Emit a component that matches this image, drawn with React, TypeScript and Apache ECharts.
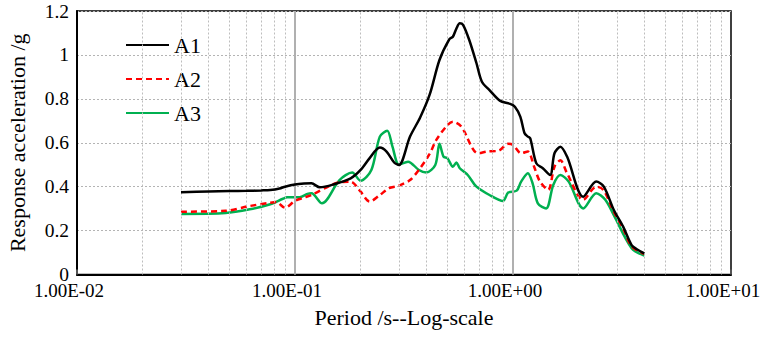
import React, { useEffect, useRef } from "react";
import * as echarts from "echarts";

// Response spectra, period (s) vs. acceleration (g)
const a1Period = [0.03, 0.04, 0.05, 0.06, 0.07, 0.077, 0.085, 0.09, 0.1, 0.11, 0.119, 0.13, 0.15, 0.18, 0.2, 0.22, 0.245, 0.263, 0.285, 0.3, 0.337, 0.375, 0.415, 0.46, 0.51, 0.53, 0.55, 0.57, 0.59, 0.63, 0.68, 0.72, 0.78, 0.87, 0.97, 1.02, 1.08, 1.13, 1.17, 1.2, 1.28, 1.37, 1.48, 1.55, 1.65, 1.77, 2.1, 2.41, 2.61, 2.9, 3.2, 3.5, 3.7, 4.0];
const a1Value = [0.375, 0.378, 0.38, 0.381, 0.383, 0.385, 0.392, 0.4, 0.41, 0.414, 0.415, 0.397, 0.41, 0.438, 0.476, 0.53, 0.578, 0.56, 0.51, 0.499, 0.628, 0.715, 0.82, 0.977, 1.071, 1.083, 1.12, 1.144, 1.137, 1.068, 0.962, 0.878, 0.84, 0.792, 0.777, 0.764, 0.719, 0.643, 0.628, 0.62, 0.506, 0.484, 0.453, 0.552, 0.582, 0.537, 0.354, 0.423, 0.4, 0.294, 0.218, 0.134, 0.115, 0.096];

const a2Period = [0.03, 0.048, 0.062, 0.077, 0.082, 0.09, 0.1, 0.11, 0.119, 0.145, 0.16, 0.18, 0.2, 0.22, 0.245, 0.27, 0.3, 0.337, 0.375, 0.415, 0.445, 0.5, 0.53, 0.58, 0.69, 0.76, 0.86, 0.95, 1.0, 1.09, 1.17, 1.25, 1.33, 1.45, 1.55, 1.65, 1.77, 2.1, 2.41, 2.6, 2.9, 3.2, 3.5, 4.0];
const a2Value = [0.286, 0.29, 0.312, 0.327, 0.33, 0.304, 0.335, 0.35, 0.362, 0.405, 0.42, 0.423, 0.377, 0.332, 0.362, 0.393, 0.405, 0.43, 0.484, 0.55, 0.613, 0.68, 0.696, 0.673, 0.552, 0.56, 0.564, 0.595, 0.59, 0.552, 0.56, 0.491, 0.423, 0.385, 0.491, 0.52, 0.461, 0.34, 0.4, 0.385, 0.286, 0.21, 0.128, 0.094];

const a3Period = [0.03, 0.048, 0.062, 0.077, 0.088, 0.092, 0.105, 0.114, 0.119, 0.133, 0.16, 0.183, 0.2, 0.224, 0.245, 0.265, 0.28, 0.3, 0.33, 0.37, 0.4, 0.44, 0.46, 0.48, 0.5, 0.53, 0.55, 0.57, 0.62, 0.68, 0.78, 0.9, 0.95, 1.04, 1.09, 1.17, 1.23, 1.3, 1.42, 1.53, 1.65, 1.8, 2.1, 2.41, 2.65, 2.9, 3.5, 4.0];
const a3Value = [0.276, 0.28, 0.297, 0.32, 0.345, 0.352, 0.352, 0.367, 0.37, 0.324, 0.43, 0.464, 0.427, 0.476, 0.628, 0.655, 0.582, 0.5, 0.514, 0.476, 0.464, 0.499, 0.595, 0.537, 0.53, 0.491, 0.51, 0.484, 0.453, 0.4, 0.362, 0.335, 0.373, 0.382, 0.423, 0.461, 0.415, 0.324, 0.301, 0.408, 0.453, 0.423, 0.301, 0.37, 0.34, 0.27, 0.12, 0.086];

// Log-axis gridlines: minor (2..9 in each decade) and decade lines
const minorGrid = [0.02, 0.03, 0.04, 0.05, 0.06, 0.07, 0.08, 0.09, 0.2, 0.3, 0.4, 0.5, 0.6, 0.7, 0.8, 0.9, 2, 3, 4, 5, 6, 7, 8, 9];
const decadeGrid = [0.1, 1];

const serif = "Liberation Serif";

const pairs = (xs: number[], ys: number[]) => xs.map((x, i) => [x, ys[i]]);

const fmtExp = (v: number) => {
  const [m, e] = v.toExponential(2).split("e");
  const n = parseInt(e, 10);
  const sign = n < 0 ? "-" : "+";
  const abs = Math.abs(n);
  return `${m}E${sign}${abs < 10 ? "0" + abs : abs}`;
};

export default function App() {
  const ref = useRef<HTMLDivElement>(null);

  useEffect(() => {
    document.body.style.margin = "0";
    if (!ref.current) return;
    const chart = echarts.init(ref.current, null, { renderer: "svg" });
    const lineW = 2.5;
    chart.setOption({
      animation: false,
      backgroundColor: "#fff",
      textStyle: { fontFamily: serif },
      grid: {
        left: 77,
        right: 32,
        top: 11,
        bottom: 63.5,
        outerBoundsMode: "none",
        containLabel: false,
        show: true,
        borderColor: "#000",
        borderWidth: 1.5,
      },
      legend: {
        orient: "vertical",
        left: 120,
        top: 29,
        itemWidth: 43,
        itemHeight: 14,
        itemGap: 12,
        itemStyle: { opacity: 0 },
        textStyle: { fontFamily: serif, fontSize: 22, color: "#000" },
        data: ["A1", "A2", "A3"],
      },
      xAxis: {
        type: "log",
        logBase: 10,
        min: 0.01,
        max: 10,
        name: "Period /s--Log-scale",
        nameLocation: "middle",
        nameGap: 32,
        nameTextStyle: { fontFamily: serif, fontSize: 22, color: "#000" },
        axisLine: { lineStyle: { color: "#000", width: 2 } },
        axisTick: { show: true, inside: true, length: 5, lineStyle: { color: "#555", width: 2 } },
        axisLabel: {
          fontFamily: serif,
          fontSize: 19,
          lineHeight: 17,
          color: "#000",
          margin: 7,
          padding: [0, 16, 0, 0],
          hideOverlap: false,
          formatter: (v: number) => fmtExp(v),
        },
        splitLine: { show: false },
      },
      yAxis: {
        type: "value",
        min: 0,
        max: 1.2,
        interval: 0.2,
        name: "Response acceleration /g",
        nameLocation: "middle",
        nameGap: 49,
        nameTextStyle: { fontFamily: serif, fontSize: 22, color: "#000" },
        axisLine: { show: true, lineStyle: { color: "#000", width: 2 } },
        axisTick: { show: false },
        axisLabel: { fontFamily: serif, fontSize: 19.5, lineHeight: 13, color: "#000", margin: 8 },
        splitLine: { show: true, lineStyle: { color: "#b4b4b4", type: [2, 2], width: 1 } },
      },
      series: [
        {
          name: "grid",
          type: "line",
          data: [],
          silent: true,
          markLine: {
            silent: true,
            symbol: "none",
            label: { show: false },
            animation: false,
            data: [
              ...minorGrid.map((v) => ({
                xAxis: v,
                lineStyle: { color: "#bdbdbd", type: [2, 2], width: 1 },
              })),
              ...decadeGrid.map((v) => ({
                xAxis: v,
                lineStyle: { color: "#b0b0b0", type: "solid", width: 2 },
              })),
            ],
          },
        },
        {
          name: "A3",
          type: "line",
          data: pairs(a3Period, a3Value),
          smooth: 0.3,
          symbol: "none",
          lineStyle: { color: "#00b050", width: lineW },
          itemStyle: { color: "#00b050" },
          z: 3,
        },
        {
          name: "A2",
          type: "line",
          data: pairs(a2Period, a2Value),
          smooth: 0.3,
          symbol: "none",
          lineStyle: { color: "#ff0000", width: lineW, type: [6, 4] },
          itemStyle: { color: "#ff0000" },
          z: 4,
        },
        {
          name: "A1",
          type: "line",
          data: pairs(a1Period, a1Value),
          smooth: 0.3,
          symbol: "none",
          lineStyle: { color: "#000", width: lineW },
          itemStyle: { color: "#000" },
          z: 5,
        },
      ],
    });
    return () => chart.dispose();
  }, []);

  return <div ref={ref} style={{ width: 763, height: 338 }} />;
}
